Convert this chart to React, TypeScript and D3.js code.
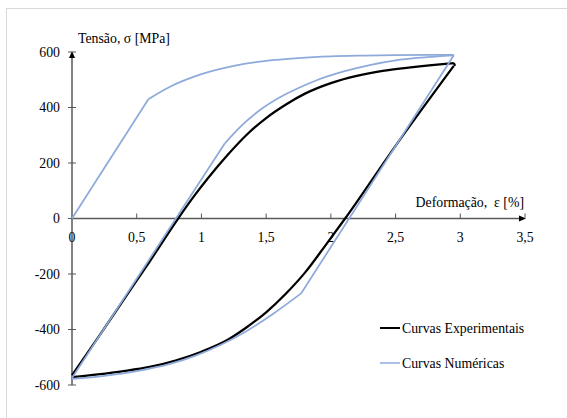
import React, { useEffect, useRef } from 'react';
import * as d3 from 'd3';

// strain [%] / stress [MPa]
const numMonoX = [0, 0.59, 0.75, 1.0, 1.25, 1.5, 1.75, 2.0, 2.25, 2.5, 2.75, 2.95];
const numMonoY = [0, 430, 473, 520, 550, 568, 578, 584, 587, 589, 590, 590];
const numMonoKink = 1;

const numUpX = [0, 1.18, 1.3, 1.45, 1.6, 1.75, 1.9, 2.1, 2.3, 2.5, 2.7, 2.95];
const numUpY = [-575, 270, 330, 390, 435, 470, 500, 530, 553, 570, 580, 588];
const numUpKink = 1;

const numDownX = [0, 0.25, 0.5, 0.75, 0.95, 1.15, 1.35, 1.55, 1.77, 2.95];
const numDownY = [-578, -567, -550, -525, -495, -455, -405, -345, -270, 588];
const numDownKink = 8;

const expUpX = [0, 0.2, 0.4, 0.6, 0.82, 0.95, 1.05, 1.2, 1.35, 1.5, 1.65, 1.8, 2.0, 2.2, 2.4, 2.6, 2.8, 2.95];
const expUpY = [-565, -430, -292, -155, 0, 85, 145, 228, 302, 362, 410, 450, 488, 514, 532, 544, 554, 560];

const expDownX = [0, 0.2, 0.4, 0.6, 0.8, 1.0, 1.2, 1.35, 1.5, 1.65, 1.8, 1.95, 2.11, 2.5, 2.95];
const expDownY = [-572, -562, -550, -535, -512, -480, -438, -392, -338, -272, -195, -102, 0, 262, 550];

const xTicks = [0, 0.5, 1, 1.5, 2, 2.5, 3, 3.5];
const yTicks = [-600, -400, -200, 0, 200, 400, 600];

const legendItems = [
  { label: 'Curvas Experimentais', color: '#000000', width: 2 },
  { label: 'Curvas Numéricas', color: '#8eaadb', width: 1.5 },
];

const W = 567;
const H = 418;

const App: React.FC = () => {
  const svgRef = useRef<SVGSVGElement>(null);

  useEffect(() => {
    if (!svgRef.current) return;
    const svg = d3.select(svgRef.current);
    svg.selectAll('*').remove();

    const x = d3.scaleLinear().domain([0, 3.5]).range([72, 525]);
    const y = d3.scaleLinear().domain([-600, 600]).range([385, 52]);
    const font = "'Liberation Serif', 'Times New Roman', serif";
    const fs = 13.8;
    const axisColor = '#595959';

    // chart area border
    svg.append('rect')
      .attr('x', 6.5).attr('y', 8.5)
      .attr('width', 600).attr('height', 450)
      .attr('fill', 'none').attr('stroke', '#d9d9d9');

    // axes
    svg.append('line')
      .attr('x1', x(0)).attr('x2', x(0))
      .attr('y1', y(-600)).attr('y2', y(600) + 4)
      .attr('stroke', axisColor).attr('stroke-width', 1.5);
    svg.append('path')
      .attr('d', `M${x(0) - 3},${y(600) + 6} L${x(0)},${y(600) - 1} L${x(0) + 3},${y(600) + 6} Z`)
      .attr('fill', '#000');

    svg.append('line')
      .attr('x1', x(0)).attr('x2', x(3.5) - 4)
      .attr('y1', y(0)).attr('y2', y(0))
      .attr('stroke', axisColor).attr('stroke-width', 1.5);
    svg.append('path')
      .attr('d', `M${x(3.5) - 6},${y(0) - 3} L${x(3.5) + 1},${y(0)} L${x(3.5) - 6},${y(0) + 3} Z`)
      .attr('fill', '#000');

    // y ticks
    yTicks.forEach(t => {
      svg.append('line')
        .attr('x1', x(0) - 4).attr('x2', x(0) + 4)
        .attr('y1', y(t)).attr('y2', y(t))
        .attr('stroke', axisColor).attr('stroke-width', 1);
      svg.append('text')
        .attr('x', 60).attr('y', y(t) + 4.5)
        .attr('text-anchor', 'end')
        .attr('font-family', font).attr('font-size', fs)
        .attr('fill', '#000')
        .text(String(t));
    });

    // x ticks
    xTicks.forEach(t => {
      if (t > 0) {
        svg.append('line')
          .attr('x1', x(t)).attr('x2', x(t))
          .attr('y1', y(0) - 5).attr('y2', y(0))
          .attr('stroke', axisColor).attr('stroke-width', 1);
      }
      svg.append('text')
        .attr('x', x(t)).attr('y', y(0) + 23)
        .attr('text-anchor', 'middle')
        .attr('font-family', font).attr('font-size', fs)
        .attr('fill', '#000')
        .text(String(t).replace('.', ','));
    });

    // axis titles
    svg.append('text')
      .attr('x', 78).attr('y', 43)
      .attr('font-family', font).attr('font-size', fs)
      .text('Tensão, σ [MPa]');
    svg.append('text')
      .attr('x', 524).attr('y', 207)
      .attr('text-anchor', 'end')
      .attr('font-family', font).attr('font-size', fs)
      .attr('xml:space', 'preserve')
      .text('Deformação,  ε [%]');

    const line = d3.line<[number, number]>()
      .x(d => x(d[0]))
      .y(d => y(d[1]))
      .curve(d3.curveMonotoneX);

    const zip = (xs: number[], ys: number[]) => xs.map((v, i) => [v, ys[i]] as [number, number]);

    const drawSplit = (xs: number[], ys: number[], kink: number, color: string, w: number) => {
      const pts = zip(xs, ys);
      [pts.slice(0, kink + 1), pts.slice(kink)].forEach(seg => {
        svg.append('path')
          .attr('d', line(seg) || '')
          .attr('fill', 'none')
          .attr('stroke', color)
          .attr('stroke-width', w)
          .attr('stroke-linejoin', 'round');
      });
    };

    // experimental
    [zip(expUpX, expUpY), zip(expDownX, expDownY)].forEach(pts => {
      svg.append('path')
        .attr('d', line(pts) || '')
        .attr('fill', 'none')
        .attr('stroke', legendItems[0].color)
        .attr('stroke-width', 2.25);
    });
    // connect experimental ends at the top
    svg.append('path')
      .attr('d', line([[2.95, 560], [2.96, 550]]) || '')
      .attr('fill', 'none').attr('stroke', '#000').attr('stroke-width', 2.25);

    // numerical
    const blue = legendItems[1].color;
    drawSplit(numMonoX, numMonoY, numMonoKink, blue, 1.75);
    drawSplit(numUpX, numUpY, numUpKink, blue, 1.75);
    drawSplit(numDownX, numDownY, numDownKink, blue, 1.75);

    // legend
    legendItems.forEach((it, i) => {
      const ly = 328 + i * 35;
      svg.append('line')
        .attr('x1', 380).attr('x2', 400)
        .attr('y1', ly).attr('y2', ly)
        .attr('stroke', it.color).attr('stroke-width', it.width);
      svg.append('text')
        .attr('x', 402).attr('y', ly + 4.5)
        .attr('font-family', font).attr('font-size', fs)
        .text(it.label);
    });
  }, []);

  return (
    <svg
      ref={svgRef}
      width={W}
      height={H}
      style={{ position: 'absolute', left: 0, top: 0, background: '#fff' }}
    />
  );
};

export default App;
